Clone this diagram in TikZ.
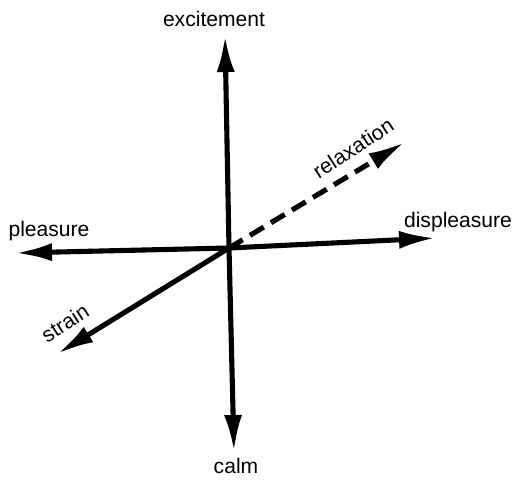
\documentclass[tikz,border=0pt]{standalone}
\usepackage{fontspec}
\setmainfont{Liberation Sans}
\usetikzlibrary{arrows.meta}

\tikzset{
  axis/.style={line width=2.9pt, -{Latex[length=0.74cm, width=0.36cm]}},
  axislabel/.style={font=\fontsize{12}{14}\selectfont, inner sep=0pt},
}

\begin{document}
\begin{tikzpicture}
                \useasboundingbox (0,0) rectangle (10.52,9.6);
                \coordinate (centre) at (4.58,4.64);
                \coordinate (top) at (4.50,8.90);
                \coordinate (bottom) at (4.68,0.56);
                \coordinate (left) at (0.30,4.54);
                \coordinate (right) at (8.72,4.84);
                \coordinate (lowleft) at (1.14,2.52);
                \coordinate (upright) at (8.10,6.76);
                \draw[axis] (centre) -- (top);
                \draw[axis] (centre) -- (bottom);
                \draw[axis] (centre) -- (left);
                \draw[axis] (centre) -- (right);
                \draw[axis] (centre) -- (lowleft);
                \draw[axis, dash pattern=on 0.32cm off 0.17cm] (centre) -- (upright);
                \node[axislabel] (excitement) at (4.28,9.22) {excitement};
                \node[axislabel] (calm) at (4.72,0.28) {calm};
                \node[axislabel] (pleasure) at (0.98,4.98) {pleasure};
                \node[axislabel] (displeasure) at (9.16,5.16) {displeasure};
                \node[axislabel, rotate=33] (relaxation) at (7.06,6.64) {relaxation};
                \node[axislabel, rotate=33] (strain) at (1.30,3.14) {strain};
            \end{tikzpicture}
\end{document}
